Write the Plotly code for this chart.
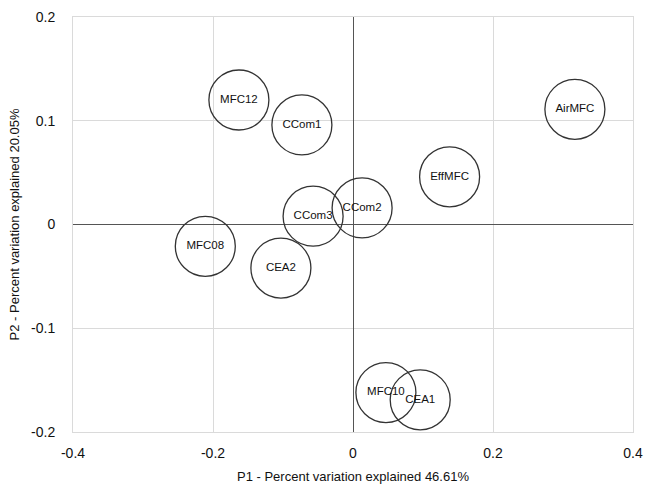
import plotly.graph_objects as go

# PCA scores of each sample on the first two principal components
samples = ["MFC12", "CCom1", "AirMFC", "EffMFC", "CCom2", "CCom3",
           "MFC08", "CEA2", "MFC10", "CEA1"]
p1_scores = [-0.163, -0.073, 0.317, 0.138, 0.013, -0.057,
             -0.211, -0.103, 0.047, 0.096]
p2_scores = [0.120, 0.096, 0.111, 0.046, 0.016, 0.008,
             -0.021, -0.042, -0.162, -0.169]

x_ticks = [-0.4, -0.2, 0, 0.2, 0.4]
x_tick_text = ["-0.4", "-0.2", "0", "0.2", "0.4"]
y_ticks = [-0.2, -0.1, 0, 0.1, 0.2]
y_tick_text = ["-0.2", "-0.1", "0", "0.1", "0.2"]

font_family = "Liberation Sans, Arial, Helvetica, sans-serif"

fig = go.Figure()
fig.add_trace(go.Scatter(
    x=p1_scores,
    y=p2_scores,
    mode="markers+text",
    text=samples,
    textposition="middle center",
    textfont=dict(family=font_family, size=11.5, color="#111111"),
    marker=dict(
        symbol="circle",
        size=60,
        color="rgba(0,0,0,0)",
        line=dict(color="#333333", width=1.3),
    ),
    hoverinfo="text",
    showlegend=False,
))

fig.update_layout(
    width=646,
    height=486,
    margin=dict(l=73, r=13, t=17, b=54),
    paper_bgcolor="white",
    plot_bgcolor="white",
    font=dict(family=font_family, color="#111111"),
    xaxis=dict(
        range=[-0.4, 0.4],
        automargin=False,
        tickvals=x_ticks,
        ticktext=x_tick_text,
        tickfont=dict(size=14),
        ticklabelstandoff=8,
        showgrid=True,
        gridcolor="#dadada",
        gridwidth=1,
        zeroline=True,
        zerolinecolor="#555555",
        zerolinewidth=1.3,
        showline=True,
        linecolor="#dadada",
        linewidth=1,
        mirror=True,
        title=dict(text="P1 - Percent variation explained 46.61%",
                   font=dict(size=13), standoff=12),
    ),
    yaxis=dict(
        range=[-0.2, 0.2],
        automargin=False,
        tickvals=y_ticks,
        ticktext=y_tick_text,
        tickfont=dict(size=14),
        ticklabelstandoff=14,
        showgrid=True,
        gridcolor="#dadada",
        gridwidth=1,
        zeroline=True,
        zerolinecolor="#555555",
        zerolinewidth=1.3,
        showline=True,
        linecolor="#dadada",
        linewidth=1,
        mirror=True,
        title=dict(text="P2 - Percent variation explained 20.05%",
                   font=dict(size=13), standoff=8),
    ),
)

fig.write_html("out.html")
